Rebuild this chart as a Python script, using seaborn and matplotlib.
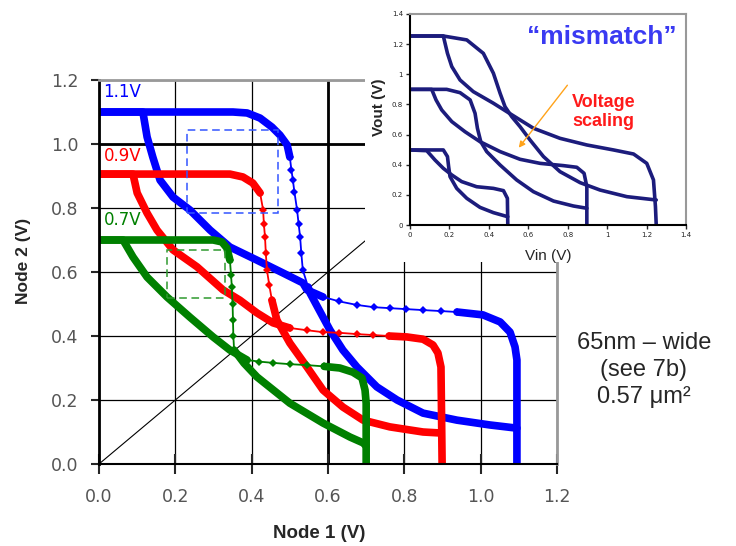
import numpy as np
import seaborn as sns
import matplotlib.pyplot as plt
from matplotlib.patches import Rectangle

# ---- main butterfly curves (Node 1, Node 2 in V) ----
blue_a_x = [0.0, 0.351, 0.388, 0.422, 0.453, 0.474, 0.493, 0.500, 0.504, 0.508, 0.512, 0.519,
            0.523, 0.527, 0.530, 0.534, 0.548, 0.553, 0.605, 0.639, 0.676, 0.728, 0.781,
            0.849, 0.938, 1.024, 1.095]
blue_a_y = [1.10, 1.10, 1.097, 1.081, 1.053, 1.028, 0.997, 0.959, 0.92, 0.887, 0.85, 0.794,
            0.75, 0.709, 0.66, 0.606, 0.553, 0.534, 0.419, 0.356, 0.303, 0.241, 0.20,
            0.159, 0.137, 0.122, 0.112]
blue_b_x = [0.0, 0.115, 0.126, 0.141, 0.160, 0.194, 0.238, 0.291, 0.343, 0.414, 0.482, 0.534,
            0.545, 0.587, 0.630, 0.676, 0.720, 0.762, 0.805, 0.849, 0.895, 0.938,
            1.006, 1.051, 1.077, 1.090, 1.095, 1.095]
blue_b_y = [1.10, 1.10, 1.022, 0.959, 0.887, 0.834, 0.794, 0.731, 0.678, 0.637, 0.597, 0.566,
            0.544, 0.522, 0.508, 0.497, 0.490, 0.487, 0.484, 0.481, 0.478, 0.475,
            0.466, 0.444, 0.412, 0.366, 0.325, 0.0]

red_a_x = [0.0, 0.343, 0.377, 0.403, 0.422, 0.430, 0.432, 0.435, 0.437, 0.440, 0.446, 0.453,
           0.466, 0.500, 0.545, 0.587, 0.639, 0.692, 0.762, 0.849, 0.893]
red_a_y = [0.906, 0.906, 0.897, 0.878, 0.847, 0.794, 0.75, 0.709, 0.66, 0.606, 0.56, 0.512,
           0.45, 0.378, 0.303, 0.231, 0.178, 0.137, 0.116, 0.10, 0.097]
red_b_x = [0.0, 0.089, 0.100, 0.126, 0.152, 0.194, 0.257, 0.325, 0.369, 0.414, 0.456, 0.500,
           0.545, 0.587, 0.630, 0.675, 0.718, 0.760, 0.807, 0.849, 0.875, 0.888, 0.896, 0.899]
red_b_y = [0.906, 0.906, 0.847, 0.784, 0.731, 0.669, 0.616, 0.544, 0.512, 0.472, 0.441, 0.425,
           0.418, 0.412, 0.410, 0.406, 0.403, 0.400, 0.397, 0.390, 0.372, 0.347, 0.303, 0.0]

green_a_x = [0.0, 0.299, 0.322, 0.335, 0.343, 0.346, 0.348, 0.350, 0.351, 0.352, 0.354,
             0.380, 0.414, 0.500, 0.587, 0.658, 0.692, 0.700]
green_a_y = [0.70, 0.70, 0.694, 0.675, 0.637, 0.59, 0.553, 0.50, 0.45, 0.40, 0.356,
             0.315, 0.272, 0.19, 0.128, 0.084, 0.066, 0.056]
green_b_x = [0.0, 0.063, 0.089, 0.126, 0.178, 0.238, 0.299, 0.343, 0.388, 0.420, 0.456,
             0.500, 0.545, 0.590, 0.631, 0.665, 0.689, 0.697, 0.700, 0.700]
green_b_y = [0.70, 0.70, 0.647, 0.584, 0.522, 0.459, 0.397, 0.356, 0.325, 0.320, 0.316,
             0.312, 0.309, 0.305, 0.300, 0.287, 0.269, 0.231, 0.19, 0.0]

diag = [0.0, 1.2]
main_ticks = [0.0, 0.2, 0.4, 0.6, 0.8, 1.0, 1.2]
supply_labels = ['1.1V', '0.9V', '0.7V']

# noise margin squares (x0, x1, y0, y1)
blue_box = [0.230, 0.470, 0.785, 1.045]
green_box = [0.178, 0.330, 0.519, 0.669]

# ---- inset curves (Vin, Vout), three supply levels ----
in125_a_x = [0.0, 0.169, 0.288, 0.372, 0.423, 0.457, 0.482, 0.516, 0.558, 0.609, 0.677, 0.761, 0.863, 0.964, 1.10, 1.249]
in125_a_y = [1.254, 1.254, 1.228, 1.139, 1.007, 0.874, 0.785, 0.719, 0.653, 0.564, 0.454, 0.354, 0.281, 0.232, 0.188, 0.166]
in125_b_x = [0.0, 0.169, 0.190, 0.212, 0.254, 0.321, 0.423, 0.491, 0.626, 0.761, 0.897, 1.032, 1.134, 1.201, 1.235, 1.245, 1.249]
in125_b_y = [1.254, 1.254, 1.139, 1.051, 0.962, 0.885, 0.808, 0.752, 0.642, 0.575, 0.531, 0.498, 0.471, 0.409, 0.299, 0.122, 0.0]
in09_a_x = [0.0, 0.186, 0.254, 0.305, 0.330, 0.342, 0.359, 0.389, 0.457, 0.541, 0.626, 0.728, 0.829, 0.897]
in09_a_y = [0.900, 0.900, 0.878, 0.830, 0.741, 0.642, 0.553, 0.487, 0.398, 0.299, 0.221, 0.159, 0.126, 0.111]
in09_b_x = [0.0, 0.110, 0.132, 0.161, 0.212, 0.279, 0.355, 0.457, 0.558, 0.660, 0.778, 0.846, 0.883, 0.897, 0.897]
in09_b_y = [0.900, 0.900, 0.830, 0.763, 0.686, 0.619, 0.553, 0.487, 0.436, 0.409, 0.394, 0.383, 0.343, 0.254, 0.0]
in05_a_x = [0.0, 0.169, 0.190, 0.196, 0.203, 0.237, 0.288, 0.355, 0.423, 0.496]
in05_a_y = [0.498, 0.498, 0.454, 0.387, 0.321, 0.243, 0.177, 0.117, 0.082, 0.055]
in05_b_x = [0.0, 0.085, 0.127, 0.169, 0.212, 0.262, 0.338, 0.423, 0.474, 0.494, 0.496]
in05_b_y = [0.498, 0.493, 0.431, 0.376, 0.332, 0.288, 0.254, 0.243, 0.228, 0.177, 0.0]
inset_ticks = [0.0, 0.2, 0.4, 0.6, 0.8, 1.0, 1.2, 1.4]
inset_tick_labels = ['0', '0.2', '0.4', '0.6', '0.8', '1', '1.2', '1.4']

sns.set_style('white')
plt.rcParams['font.family'] = ['DejaVu Sans']

BLUE, RED, GREEN = '#0000ff', '#ff0000', '#008000'
NAVY = '#1c1c7c'


def draw_curve(ax, xs, ys, color, sparse):
    """thick where the points are dense, thin line + diamonds where they are sparse"""
    s, e = sparse
    kw = dict(sort=False, estimator=None, color=color, ax=ax, legend=False)
    sns.lineplot(x=xs[:s + 1], y=ys[:s + 1], lw=5.5, **kw)
    sns.lineplot(x=xs[s:e + 1], y=ys[s:e + 1], lw=1.3, marker='D', markersize=4.5,
                 markeredgewidth=0, **kw)
    sns.lineplot(x=xs[e:], y=ys[e:], lw=5.5, **kw)


fig = plt.figure(figsize=(7.36, 5.46), dpi=100)
ax = fig.add_axes([99 / 736, 1 - 464 / 546, 458 / 736, 384 / 546])

ax.set_xlim(0, 1.2)
ax.set_ylim(0, 1.2)
ax.set_xticks(main_ticks)
ax.set_yticks(main_ticks)
ax.set_xticklabels([f'{t:.1f}' for t in main_ticks])
ax.set_yticklabels([f'{t:.1f}' for t in main_ticks])
ax.grid(True, color='black', lw=0.9)
ax.set_axisbelow(True)
ax.axvline(0.6, color='black', lw=2, zorder=0.5)
ax.axhline(1.0, color='black', lw=2, zorder=0.5)
for side in ['left', 'bottom']:
    ax.spines[side].set_color('black')
ax.spines['left'].set_linewidth(2)
ax.spines['bottom'].set_linewidth(1.5)
for side in ['top', 'right']:
    ax.spines[side].set_color('#999999')
    ax.spines[side].set_linewidth(2)
ax.tick_params(axis='y', direction='out', length=6, width=1.5, pad=9,
               labelsize=12.5, labelcolor='#555555', left=True)
ax.tick_params(axis='x', direction='inout', length=14, width=1.5, pad=10,
               labelsize=12.5, labelcolor='#555555', bottom=True)

sns.lineplot(x=diag, y=diag, color='black', lw=0.8, ax=ax, sort=False, estimator=None)

draw_curve(ax, blue_a_x, blue_a_y, BLUE, (7, 16))
draw_curve(ax, blue_b_x, blue_b_y, BLUE, (13, 21))
draw_curve(ax, red_a_x, red_a_y, RED, (4, 11))
draw_curve(ax, red_b_x, red_b_y, RED, (11, 17))
draw_curve(ax, green_a_x, green_a_y, GREEN, (4, 10))
draw_curve(ax, green_b_x, green_b_y, GREEN, (8, 13))

for box, col in [(blue_box, '#3355ff'), (green_box, '#2f9a2f')]:
    x0, x1, y0, y1 = box
    ax.add_patch(Rectangle((x0, y0), x1 - x0, y1 - y0, fill=False, ls=(0, (5, 3)),
                           lw=1.1, edgecolor=col, zorder=3))

for lab, yy, col in zip(supply_labels, [1.163, 0.963, 0.763], [BLUE, RED, GREEN]):
    ax.text(0.012, yy, lab, color=col, fontsize=12, va='center', ha='left')

ax.set_xlabel('Node 1 (V)', fontsize=13.5, fontweight='bold', family='Liberation Sans')
ax.set_ylabel('Node 2 (V)', fontsize=12.5, fontweight='bold', family='Liberation Sans')
ax.xaxis.set_label_coords(0.48, -0.158)
ax.yaxis.set_label_coords(-0.148, 0.53)

# white patch under the inset, it hides the corner of the main chart
fig.add_artist(Rectangle((365 / 736, 1 - 262 / 546), 1, 1, transform=fig.transFigure,
                         facecolor='white', edgecolor='none', zorder=1))

axi = fig.add_axes([410 / 736, 1 - 225 / 546, 276 / 736, 211 / 546])
axi.set_zorder(2)
axi.set_facecolor('white')
axi.set_xlim(0, 1.4)
axi.set_ylim(0, 1.4)
axi.set_xticks(inset_ticks)
axi.set_yticks(inset_ticks)
axi.set_xticklabels(inset_tick_labels)
axi.set_yticklabels(inset_tick_labels)
axi.tick_params(labelsize=5, length=3, width=1, direction='out', pad=2,
                left=True, bottom=True, labelcolor='#222222')
for side in ['left', 'bottom']:
    axi.spines[side].set_color('black')
    axi.spines[side].set_linewidth(1.5)
for side in ['top', 'right']:
    axi.spines[side].set_color('#999999')
    axi.spines[side].set_linewidth(1.5)

for xs, ys in [(in125_a_x, in125_a_y), (in125_b_x, in125_b_y), (in09_a_x, in09_a_y),
               (in09_b_x, in09_b_y), (in05_a_x, in05_a_y), (in05_b_x, in05_b_y)]:
    sns.lineplot(x=xs, y=ys, color=NAVY, lw=2.6, ax=axi, sort=False, estimator=None)

axi.set_xlabel('Vin (V)', fontsize=11, family='Liberation Sans', labelpad=8)
axi.set_ylabel('Vout (V)', fontsize=11, fontweight='bold', family='Liberation Sans')
axi.yaxis.set_label_coords(-0.087, 0.56)

axi.text(0.975, 1.25, '\u201cmismatch\u201d', color='#3a3af2', fontsize=19, fontweight='bold',
         family='Liberation Sans', ha='center', va='center')
axi.text(0.822, 0.75, 'Voltage\nscaling', color='#ff1a1a', fontsize=13, fontweight='bold',
         family='Liberation Sans', ha='left', va='center', linespacing=1.15)
axi.annotate('', xy=(0.543, 0.498), xytext=(0.807, 0.942),
             arrowprops=dict(arrowstyle='-|>', color='#ffa31a', lw=1, mutation_scale=9))

fig.text(0.875, 0.322, '65nm \u2013 wide\n(see 7b)\n0.57 \u03bcm\u00b2', ha='center', va='center',
         fontsize=17, family='Liberation Sans', linespacing=1.3)

fig.savefig('out.png', dpi=100)
